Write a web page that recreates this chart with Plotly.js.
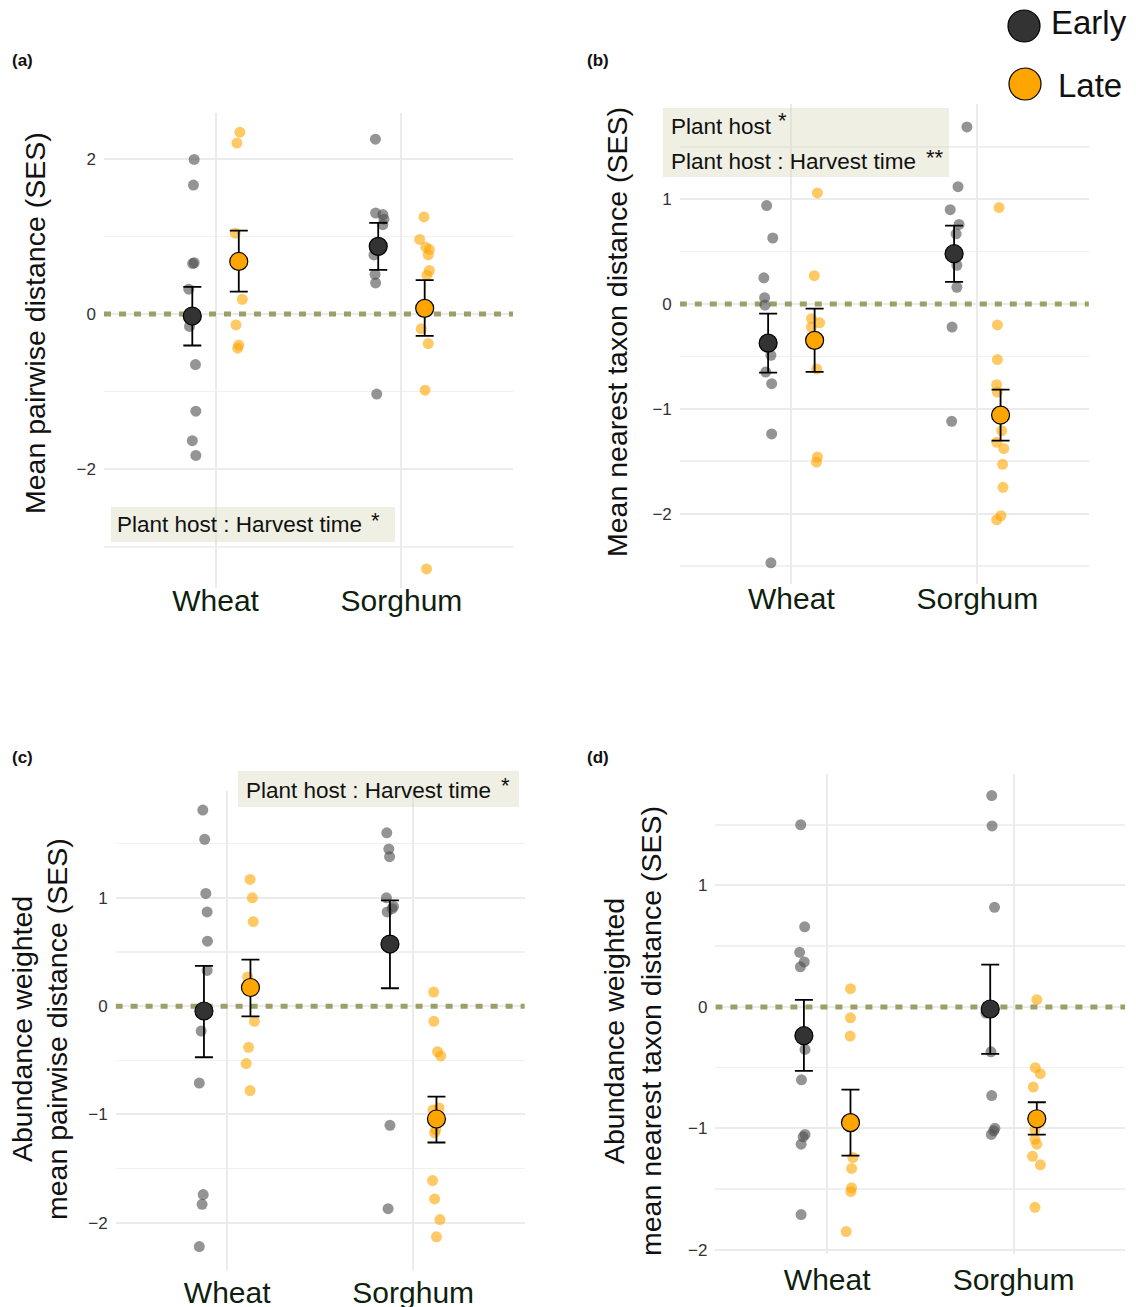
<!DOCTYPE html>
<html><head><meta charset="utf-8">
<script src="https://cdn.plot.ly/plotly-3.0.1.min.js"></script>
<style>html,body{margin:0;padding:0;background:#fff}</style>
</head><body>
<div id="chart" style="width:1136px;height:1307px"></div>
<script>
// ---------- data ----------
const categories = ['Wheat', 'Sorghum'];
const harvest = ['Early', 'Late'];
const referenceLevel = 0;

// (a) Mean pairwise distance (SES)
const aWheatEarly = [1.99, 1.66, 0.66, 0.65, 0.32, -0.16, -0.65, -1.25, -1.63, -1.82];
const aWheatEarlyJit = [0.010, 0.006, 0.010, 0.002, -0.019, -0.015, 0.017, 0.019, 0.000, 0.019];
const aWheatLate = [2.34, 2.20, 1.04, 0.19, -0.14, -0.40, -0.44];
const aWheatLateJit = [0.006, -0.010, -0.019, 0.019, -0.015, 0.000, -0.006];
const aSorghumEarly = [2.25, 1.30, 1.28, 1.22, 1.15, 0.76, 0.51, 0.40, -1.03];
const aSorghumEarlyJit = [-0.015, -0.014, 0.025, 0.031, 0.025, -0.023, -0.017, -0.014, -0.008];
const aSorghumLate = [1.25, 0.96, 0.86, 0.83, 0.76, 0.56, 0.50, -0.19, -0.38, -0.98, -3.28];
const aSorghumLateJit = [-0.004, -0.027, 0.006, 0.025, 0.019, 0.025, 0.012, -0.019, 0.019, 0.002, 0.010];
const aEarlyMean = [-0.026, 0.871], aEarlyHi = [0.349, 1.172], aEarlyLo = [-0.405, 0.569];
const aLateMean = [0.677, 0.073], aLateHi = [1.073, 0.435], aLateLo = [0.289, -0.280];

// (b) Mean nearest taxon distance (SES)
const bWheatEarly = [0.94, 0.63, 0.25, 0.06, -0.01, -0.49, -0.65, -0.76, -1.24, -2.47];
const bWheatEarlyJit = [-0.008, 0.025, -0.023, -0.019, -0.017, 0.015, -0.013, 0.019, 0.019, 0.015];
const bWheatLate = [1.06, 0.27, -0.14, -0.18, -0.22, -0.62, -1.46, -1.51];
const bWheatLateJit = [0.015, -0.002, -0.017, 0.027, -0.017, 0.011, 0.015, 0.010];
const bSorghumEarly = [1.69, 1.12, 0.90, 0.76, 0.67, 0.37, 0.16, -0.22, -1.12];
const bSorghumEarlyJit = [0.069, 0.021, -0.021, 0.027, 0.011, 0.015, 0.015, -0.011, -0.013];
const bSorghumLate = [0.92, -0.20, -0.53, -0.77, -0.84, -1.21, -1.32, -1.38, -1.53, -1.75, -2.02, -2.06];
const bSorghumLateJit = [-0.008, -0.017, -0.017, -0.021, -0.017, 0.006, -0.021, 0.017, 0.011, 0.013, 0.002, -0.021];
const bEarlyMean = [-0.373, 0.480], bEarlyHi = [-0.091, 0.749], bEarlyLo = [-0.655, 0.211];
const bLateMean = [-0.347, -1.060], bLateHi = [-0.045, -0.817], bLateLo = [-0.648, -1.303];

// (c) Abundance weighted mean pairwise distance (SES)
const cWheatEarly = [1.81, 1.54, 1.04, 0.87, 0.60, 0.33, -0.23, -0.71, -1.74, -1.83, -2.22];
const cWheatEarlyJit = [-0.006, 0.004, 0.010, 0.017, 0.019, 0.017, -0.015, -0.025, -0.004, -0.010, -0.025];
const cWheatLate = [1.17, 1.00, 0.78, 0.27, -0.14, -0.38, -0.53, -0.78];
const cWheatLateJit = [-0.002, 0.010, 0.015, -0.015, 0.021, -0.010, -0.023, -0.002];
const cSorghumEarly = [1.60, 1.45, 1.38, 1.00, 0.92, 0.90, 0.87, -1.10, -1.87];
const cSorghumEarlyJit = [-0.017, -0.006, -0.002, -0.019, 0.019, 0.012, -0.015, 0.000, -0.010];
const cSorghumLate = [0.13, -0.14, -0.42, -0.46, -0.94, -0.96, -1.14, -1.17, -1.61, -1.78, -1.97, -2.13];
const cSorghumLateJit = [-0.015, -0.014, 0.006, 0.023, 0.014, -0.019, -0.004, -0.010, -0.021, -0.010, 0.019, 0.000];
const cEarlyMean = [-0.045, 0.573], cEarlyHi = [0.372, 0.977], cEarlyLo = [-0.472, 0.165];
const cLateMean = [0.172, -1.042], cLateHi = [0.430, -0.835], cLateLo = [-0.094, -1.259];

// (d) Abundance weighted mean nearest taxon distance (SES)
const dWheatEarly = [1.50, 0.66, 0.45, 0.37, 0.33, -0.35, -0.60, -1.05, -1.07, -1.13, -1.71];
const dWheatEarlyJit = [-0.017, 0.004, -0.023, 0.002, -0.019, 0.006, -0.013, 0.006, -0.004, -0.015, -0.015];
const dWheatLate = [0.15, -0.09, -0.24, -1.24, -1.33, -1.49, -1.52, -1.85];
const dWheatLateJit = [0.000, 0.000, -0.002, 0.013, 0.006, 0.006, 0.002, -0.023];
const dSorghumEarly = [1.74, 1.49, 0.82, -0.05, -0.37, -0.73, -1.00, -1.02, -1.05];
const dSorghumEarlyJit = [0.008, 0.010, 0.023, -0.023, 0.004, 0.008, 0.025, 0.019, 0.006];
const dSorghumLate = [0.06, -0.50, -0.55, -0.66, -0.95, -1.01, -1.09, -1.13, -1.23, -1.30, -1.65];
const dSorghumLateJit = [0.000, -0.008, 0.019, -0.019, 0.019, -0.010, -0.010, 0.000, -0.023, 0.019, -0.010];
const dEarlyMean = [-0.237, -0.017], dEarlyHi = [0.058, 0.349], dEarlyLo = [-0.526, -0.387];
const dLateMean = [-0.953, -0.921], dLateHi = [-0.681, -0.785], dLateLo = [-1.224, -1.051];

// ---------- styles ----------
const W = 1136, H = 1307;
const fx = p => p / W, fy = p => 1 - p / H;
const FONT = 'Liberation Sans, Arial, Helvetica, sans-serif';
const DODGE = 0.125;
const XRANGE = [-0.6, 1.6];
const ptColor = {Early: 'rgba(77,77,77,0.6)', Late: 'rgba(255,165,0,0.6)'};
const meanColor = {Early: '#333333', Late: '#FFA500'};

const traces = [];
function addPanel(ax, groups, means) {
  const xa = 'x' + ax, ya = 'y' + ax;
  // dashed reference line at SES = 0
  traces.push({type: 'scatter', mode: 'lines', xaxis: xa, yaxis: ya, showlegend: false, hoverinfo: 'skip',
    x: XRANGE, y: XRANGE.map(() => referenceLevel),
    line: {color: '#9e9e68', width: 5, dash: '7px,8px'}});
  // jittered observations
  harvest.forEach((h, hi) => {
    categories.forEach((c, ci) => {
      const g = groups[h][ci];
      traces.push({
        type: 'scatter', mode: 'markers', xaxis: xa, yaxis: ya, showlegend: false, hoverinfo: 'y',
        x: g.jit.map(j => ci + (hi === 0 ? -DODGE : DODGE) + j), y: g.vals,
        marker: {size: 11, color: ptColor[h], line: {width: 0}}
      });
    });
  });
  // means with error bars
  harvest.forEach((h, hi) => {
    const m = means[h];
    traces.push({
      type: 'scatter', mode: 'markers', xaxis: xa, yaxis: ya, showlegend: false, name: h,
      x: categories.map((c, ci) => ci + (hi === 0 ? -DODGE : DODGE)), y: m.mean,
      error_y: {type: 'data', symmetric: false,
        array: m.hi.map((v, i) => v - m.mean[i]), arrayminus: m.mean.map((v, i) => v - m.lo[i]),
        color: '#000', thickness: 1.8, width: 9},
      marker: {size: 18, color: meanColor[h], line: {color: '#000', width: 1.2}}
    });
  });
}
addPanel('', {
  Early: [{vals: aWheatEarly, jit: aWheatEarlyJit}, {vals: aSorghumEarly, jit: aSorghumEarlyJit}],
  Late: [{vals: aWheatLate, jit: aWheatLateJit}, {vals: aSorghumLate, jit: aSorghumLateJit}]
}, {Early: {mean: aEarlyMean, hi: aEarlyHi, lo: aEarlyLo}, Late: {mean: aLateMean, hi: aLateHi, lo: aLateLo}});
addPanel('2', {
  Early: [{vals: bWheatEarly, jit: bWheatEarlyJit}, {vals: bSorghumEarly, jit: bSorghumEarlyJit}],
  Late: [{vals: bWheatLate, jit: bWheatLateJit}, {vals: bSorghumLate, jit: bSorghumLateJit}]
}, {Early: {mean: bEarlyMean, hi: bEarlyHi, lo: bEarlyLo}, Late: {mean: bLateMean, hi: bLateHi, lo: bLateLo}});
addPanel('3', {
  Early: [{vals: cWheatEarly, jit: cWheatEarlyJit}, {vals: cSorghumEarly, jit: cSorghumEarlyJit}],
  Late: [{vals: cWheatLate, jit: cWheatLateJit}, {vals: cSorghumLate, jit: cSorghumLateJit}]
}, {Early: {mean: cEarlyMean, hi: cEarlyHi, lo: cEarlyLo}, Late: {mean: cLateMean, hi: cLateHi, lo: cLateLo}});
addPanel('4', {
  Early: [{vals: dWheatEarly, jit: dWheatEarlyJit}, {vals: dSorghumEarly, jit: dSorghumEarlyJit}],
  Late: [{vals: dWheatLate, jit: dWheatLateJit}, {vals: dSorghumLate, jit: dSorghumLateJit}]
}, {Early: {mean: dEarlyMean, hi: dEarlyHi, lo: dEarlyLo}, Late: {mean: dLateMean, hi: dLateHi, lo: dLateLo}});

function xAxis(left, right, anchor, standoff) {
  return {domain: [fx(left), fx(right)], anchor: anchor, range: XRANGE,
    tickvals: [0, 1], ticktext: categories, ticks: '', showline: false, zeroline: false,
    showgrid: true, gridcolor: '#ebebeb', gridwidth: 2, ticklabelstandoff: standoff,
    tickfont: {family: FONT, size: 30, color: '#0f1f0f'}, fixedrange: true};
}
function yAxis(top, bottom, anchor, range, dtick, minor) {
  return {domain: [fy(bottom), fy(top)], anchor: anchor, range: range,
    tick0: 0, dtick: dtick, ticks: '', showline: false, zeroline: false,
    showgrid: true, gridcolor: '#ebebeb', gridwidth: 2, ticklabelstandoff: 7,
    minor: {dtick: minor, tick0: 0, showgrid: true, gridcolor: '#f0f0f0', gridwidth: 1.5},
    tickfont: {family: FONT, size: 17, color: '#333'}, fixedrange: true};
}

const box = (x0, x1, y0, y1) => ({type: 'rect', xref: 'paper', yref: 'paper', x0: fx(x0), x1: fx(x1),
  y0: fy(y1), y1: fy(y0), fillcolor: 'rgba(215,215,185,0.4)', line: {width: 0}, layer: 'above'});
const legendDot = (cx, cy, color) => ({type: 'circle', xref: 'paper', yref: 'paper',
  xsizemode: 'pixel', ysizemode: 'pixel', xanchor: fx(cx), yanchor: fy(cy),
  x0: -16, x1: 16, y0: -16, y1: 16, fillcolor: color, line: {color: '#000', width: 1.2}, layer: 'above'});

const txt = (x, y, text, size, opts) => Object.assign({xref: 'paper', yref: 'paper', x: fx(x), y: fy(y),
  text: text, showarrow: false, xanchor: 'left', yanchor: 'middle',
  font: {family: FONT, size: size, color: '#111'}}, opts || {});

const annotations = [
  txt(10, 61, '<b>(a)</b>', 17), txt(585, 61, '<b>(b)</b>', 17),
  txt(10, 757, '<b>(c)</b>', 17), txt(585, 757, '<b>(d)</b>', 17),
  txt(35, 323, 'Mean pairwise distance (SES)', 28.5, {textangle: -90, xanchor: 'center'}),
  txt(617, 332, 'Mean nearest taxon distance (SES)', 28.5, {textangle: -90, xanchor: 'center'}),
  txt(22, 1029, 'Abundance weighted', 28.5, {textangle: -90, xanchor: 'center'}),
  txt(57, 1029, 'mean pairwise distance (SES)', 28.5, {textangle: -90, xanchor: 'center'}),
  txt(614, 1031, 'Abundance weighted', 28.5, {textangle: -90, xanchor: 'center'}),
  txt(651, 1031, 'mean nearest taxon distance (SES)', 28.5, {textangle: -90, xanchor: 'center'}),
  txt(115, 525, 'Plant host : Harvest time', 22.5),
  txt(369, 520, '*', 22),
  txt(669, 127, 'Plant host', 22.5),
  txt(776, 121, '*', 22),
  txt(669, 162, 'Plant host : Harvest time', 22.5),
  txt(924, 157, '**', 22),
  txt(244, 790, 'Plant host : Harvest time', 22.5),
  txt(499, 785, '*', 22),
  txt(1089, 22, 'Early', 33, {xanchor: 'center'}),
  txt(1090, 86, 'Late', 33, {xanchor: 'center'})
];

const layout = {
  width: W, height: H, margin: {l: 0, r: 0, t: 0, b: 0},
  paper_bgcolor: '#fff', plot_bgcolor: '#fff', showlegend: false,
  font: {family: FONT},
  xaxis: xAxis(104, 513, 'y', -8), yaxis: yAxis(112.7, 588, 'x', [-3.526, 2.591], 2, 1),
  xaxis2: xAxis(679.8, 1088.9, 'y2', -6), yaxis2: yAxis(104.3, 584.4, 'x2', [-2.676, 1.906], 1, 0.5),
  xaxis3: xAxis(115.6, 524.8, 'y3', 2), yaxis3: yAxis(790.9, 1270, 'x3', [-2.436, 1.987], 1, 0.5),
  xaxis4: xAxis(715.4, 1125.3, 'y4', 5), yaxis4: yAxis(774, 1254.4, 'x4', [-2.038, 1.918], 1, 0.5),
  shapes: [
    box(111, 395, 507, 542), box(663, 949, 108, 177), box(238, 519, 771, 807),
    legendDot(1024, 26, '#333333'), legendDot(1025, 84, '#FFA500')
  ],
  annotations: annotations
};
Plotly.newPlot('chart', traces, layout, {displayModeBar: false, staticPlot: true});
</script>
</body></html>
